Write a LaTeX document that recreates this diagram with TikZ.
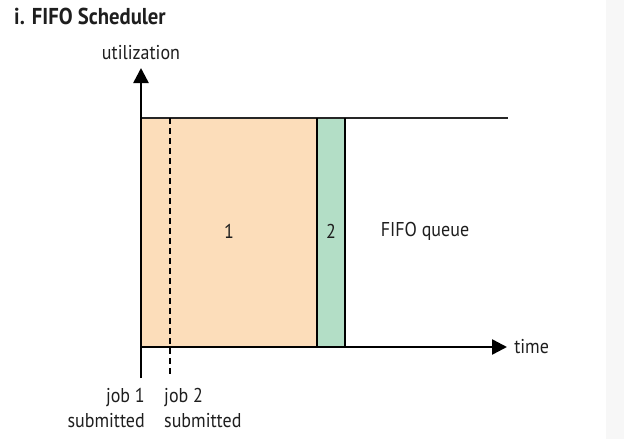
\documentclass[tikz,border=0pt]{standalone}
\usepackage{fontspec}
\setmainfont{PT Sans}[FakeStretch=0.9]
\usetikzlibrary{arrows.meta}
\definecolor{jobone}{HTML}{FCDDBA}
\definecolor{jobtwo}{HTML}{B3DEC6}
\definecolor{sidebar}{HTML}{F7F7F7}
\definecolor{ink}{HTML}{1E1E1E}
\tikzset{
  axis/.style={black, line width=2.5pt, -{Triangle[length=15pt, width=15pt]}},
  border/.style={black, line width=2pt},
  label/.style={inner sep=0pt, text=ink, font=\fontsize{20}{25}\selectfont}
}
\begin{document}
\begin{tikzpicture}[x=1pt, y=-1pt]
                \useasboundingbox (0,0) rectangle (624,439);
                \fill[sidebar] (606,0) rectangle (624,439);
                \coordinate (origin) at (141,347);
                \coordinate (ybottom) at (141,378);
                \coordinate (ytop) at (141,68);
                \coordinate (xend) at (507,347);
                \coordinate (topleft) at (141,118);
                \coordinate (topright) at (508,118);
                \coordinate (onetop) at (317,118);
                \coordinate (onebottom) at (317,347);
                \coordinate (twotop) at (345,118);
                \coordinate (twobottom) at (345,347);
                \coordinate (dashtop) at (170,118);
                \coordinate (dashbottom) at (170,377);
                \fill[jobone] (topleft) rectangle (onebottom);
                \fill[jobtwo] (onetop) rectangle (twobottom);
                \draw[black!85, line width=2.2pt] (topleft) -- (topright);
                \draw[border] (onetop) -- (onebottom);
                \draw[border] (twotop) -- (twobottom);
                \draw[black, line width=2pt, dash pattern=on 6pt off 4pt] (dashtop) -- (dashbottom);
                \draw[axis] (origin) -- (xend) node[label, right=6pt] (xlabel) {time};
                \draw[axis] (ybottom) -- (ytop) node[label, above=7pt] (ylabel) {utilization};
                \node[label, anchor=west, font=\fontsize{23}{25}\selectfont\bfseries] (title) at (14,16) {i. FIFO Scheduler};
                \node[label] (one) at (229,231) {1};
                \node[label] (two) at (331,231) {2};
                \node[label] (queue) at (425,231) {FIFO queue};
                \node[label, align=right, anchor=north east] (sub1) at (145,388) {job 1\\submitted};
                \node[label, align=left, anchor=north west] (sub2) at (164,388) {job 2\\submitted};
            \end{tikzpicture}
\end{document}
